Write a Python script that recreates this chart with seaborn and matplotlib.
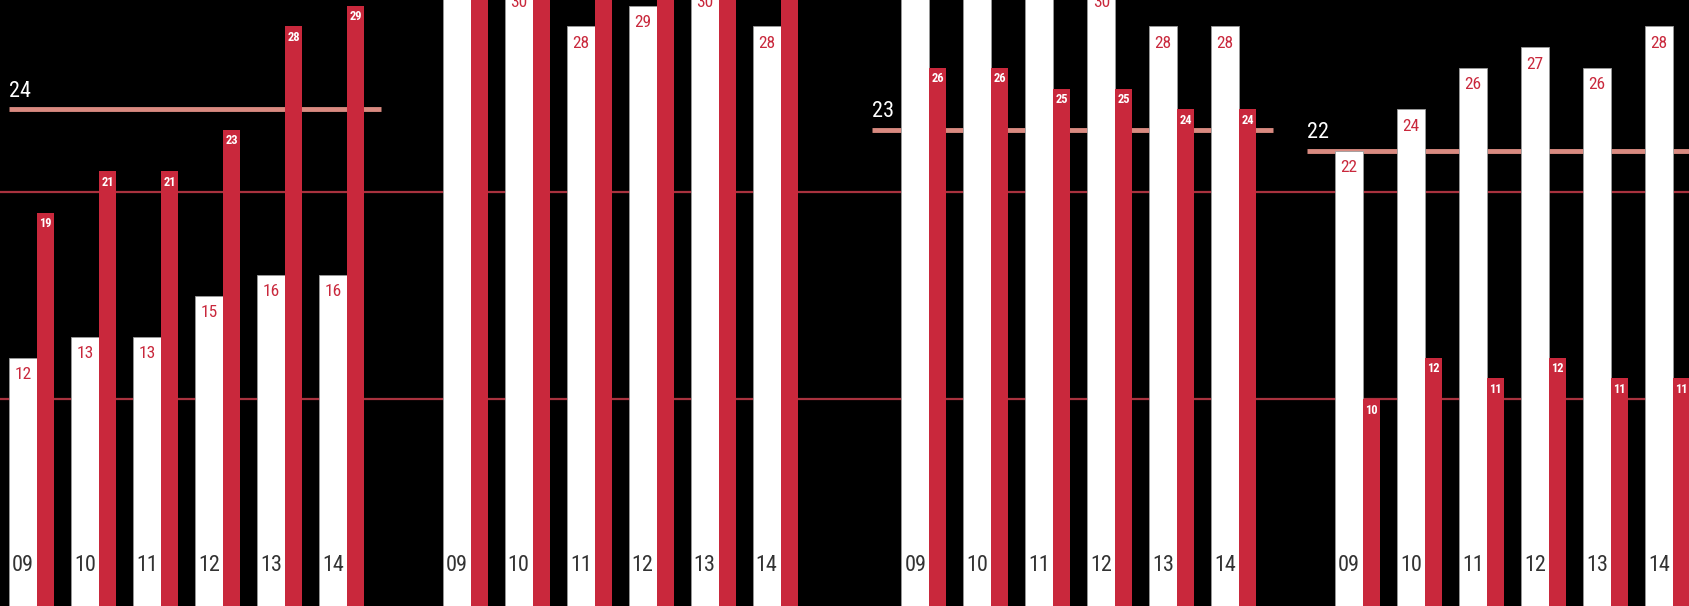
import pandas as pd
import numpy as np
import seaborn as sns
import matplotlib.pyplot as plt
from matplotlib import font_manager

# datos: 4 grupos x 6 temporadas (09-14), barra blanca y barra roja
years = ['09', '10', '11', '12', '13', '14']
white_vals = [
    [12, 13, 13, 15, 16, 16],
    [31, 30, 28, 29, 30, 28],
    [31, 31, 31, 30, 28, 28],
    [22, 24, 26, 27, 26, 28],
]
red_vals = [
    [19, 21, 21, 23, 28, 29],
    [32, 33, 31, 32, 33, 31],
    [26, 26, 25, 25, 24, 24],
    [10, 12, 11, 12, 11, 11],
]
avg_vals = [24, 30, 23, 22]
grid_vals = [10, 20]

# layout (en pixeles de la figura)
group_start = [9, 442.7, 901.3, 1335]
line_from = [0, -29, -29, -28]
pitch = 62
w_white, w_red = 28, 17

names = [f.name for f in font_manager.fontManager.ttflist]
font = 'DejaVu Sans'
for cand in ['Roboto Condensed', 'Liberation Sans Narrow', 'Open Sans Condensed']:
    if cand in names:
        font = cand
        break
stretch = 'condensed'

rows = []
for g in range(4):
    for k, yr in enumerate(years):
        base = group_start[g] + pitch * k
        rows.append({'grupo': g, 'anio': yr, 'serie': 'blanca',
                     'pos': base + w_white / 2, 'valor': white_vals[g][k]})
        rows.append({'grupo': g, 'anio': yr, 'serie': 'roja',
                     'pos': base + w_white + w_red / 2, 'valor': red_vals[g][k]})
df = pd.DataFrame(rows)
dw = df[df['serie'] == 'blanca']
dr = df[df['serie'] == 'roja']

RED = '#c9283c'
px = 20.7  # pixeles por unidad
ytop = 606 / px

sns.set_style('dark')
fig = plt.figure(figsize=(16.89, 6.06), dpi=100, facecolor='black')
ax = fig.add_axes([0, 0, 1, 1])
ax.set_facecolor('black')

for gv in grid_vals:
    ax.axhline(gv, color='#a8323e', lw=1.6, zorder=0.5)

sns.barplot(data=dw, x='pos', y='valor', native_scale=True, orient='x',
            width=w_white / pitch, color='white', saturation=1, errorbar=None,
            edgecolor='#9a9a9a', linewidth=0.6, ax=ax, zorder=2)
sns.barplot(data=dr, x='pos', y='valor', native_scale=True, orient='x',
            width=w_red / pitch, color=RED, saturation=1, errorbar=None,
            linewidth=0, ax=ax, zorder=2)

for g in range(4):
    x0 = group_start[g] + line_from[g]
    x1 = group_start[g] + pitch * 5 + w_white + w_red + 17
    ax.hlines(avg_vals[g], x0, x1, color='#d98a80', lw=3.5, zorder=0.6)
    ly = avg_vals[g] + 18 / px
    if ly < ytop:
        ax.text(x0, ly, str(avg_vals[g]), color='white',
                fontsize=16, family=font, stretch=stretch, ha='left', va='center')

for _, r in dw.iterrows():
    ly = r['valor'] - 17 / px
    if ly < ytop:
        ax.text(r['pos'], ly, str(r['valor']), color=RED,
                fontsize=12.5, family=font, stretch=stretch, ha='center', va='center', zorder=3)
    ax.text(r['pos'], 1.95, r['anio'], color='#333333', fontsize=16,
            family=font, stretch=stretch, ha='center', va='center', zorder=3)
for _, r in dr.iterrows():
    ly = r['valor'] - 11 / px
    if ly < ytop:
        ax.text(r['pos'], ly, str(r['valor']), color='white', fontweight='bold',
                fontsize=9, family=font, stretch=stretch, ha='center', va='center', zorder=3)

ax.set_xlim(0, 1689)
ax.set_ylim(0, ytop)
ax.axis('off')

plt.savefig('out.png', dpi=100, facecolor='black')
